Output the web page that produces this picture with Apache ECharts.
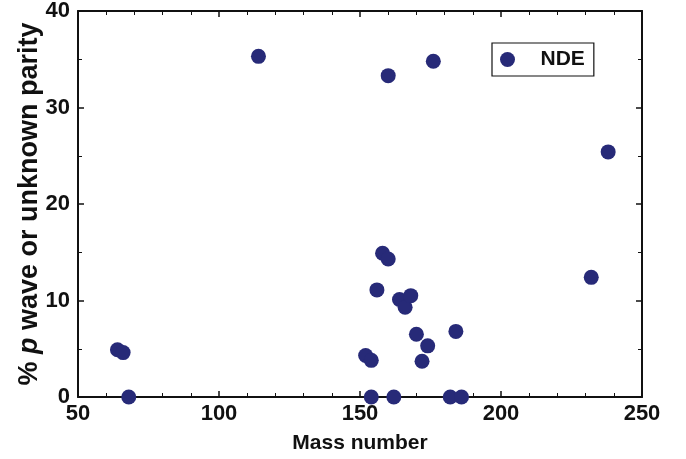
<!DOCTYPE html>
<html>
<head>
<meta charset="utf-8">
<script src="https://cdn.jsdelivr.net/npm/echarts@6/dist/echarts.min.js"></script>
<style>html,body{margin:0;padding:0;background:#fff}#c{width:686px;height:459px}</style>
</head>
<body>
<div id="c"></div>
<script>
const massNumber = [64, 66, 68, 114, 152, 154, 154, 156, 158, 160, 160, 162, 164, 166, 168, 170, 172, 174, 176, 182, 184, 186, 232, 238];
const pWavePercent = [4.9, 4.6, 0, 35.3, 4.3, 3.8, 0, 11.1, 14.9, 14.3, 33.3, 0, 10.1, 9.3, 10.5, 6.5, 3.7, 5.3, 34.8, 0, 6.8, 0, 12.4, 25.4];
const seriesName = 'NDE';
const xTitle = 'Mass number';

const points = massNumber.map((m, i) => [m, pWavePercent[i]]);
const font = '"Liberation Sans", Arial, sans-serif';
const navy = '#272a78';

const chart = echarts.init(document.getElementById('c'));
const axisCommon = {
  axisLine: { show: true, onZero: false, lineStyle: { color: '#111', width: 2 } },
  axisTick: { show: true, inside: true, length: 6, lineStyle: { color: '#111', width: 1.5 } },
  splitLine: { show: false }
};
chart.setOption({
  animation: false,
  grid: { left: 78, right: 44, top: 8, bottom: 62 },
  legend: {
    data: [seriesName],
    left: 492, top: 43,
    borderColor: '#111', borderWidth: 1.2,
    padding: [6, 9, 6, 8],
    itemWidth: 40, itemHeight: 15,
    icon: 'circle',
    textStyle: { fontFamily: font, fontWeight: 'bold', fontSize: 21, color: '#111', padding: [0, 0, 0, 8] }
  },
  xAxis: [
    Object.assign({}, axisCommon, {
      type: 'value', min: 50, max: 250, interval: 50, position: 'bottom',
      minorTick: { show: true, splitNumber: 5, length: 4, lineStyle: { color: '#111', width: 1 } },
      axisLabel: { fontFamily: font, fontWeight: 'bold', fontSize: 22, color: '#111', margin: 6 },
      name: xTitle, nameLocation: 'middle', nameGap: 36, nameMoveOverlap: false,
      nameTextStyle: { fontFamily: font, fontWeight: 'bold', fontSize: 21, color: '#111' }
    }),
    Object.assign({}, axisCommon, {
      type: 'value', min: 50, max: 250, interval: 50, position: 'top',
      minorTick: { show: true, splitNumber: 5, length: 4, lineStyle: { color: '#111', width: 1 } },
      axisLabel: { show: false }
    })
  ],
  yAxis: [
    Object.assign({}, axisCommon, {
      type: 'value', min: 0, max: 40, interval: 10, position: 'left',
      minorTick: { show: true, splitNumber: 2, length: 4, lineStyle: { color: '#111', width: 1 } },
      axisLabel: { fontFamily: font, fontWeight: 'bold', fontSize: 22, color: '#111', margin: 8 },
      name: '% {i|p} wave or unknown parity', nameLocation: 'middle', nameGap: 35, nameMoveOverlap: false,
      nameTextStyle: {
        fontFamily: font, fontWeight: 'bold', fontSize: 27, color: '#111',
        rich: { i: { fontFamily: font, fontWeight: 'bold', fontStyle: 'italic', fontSize: 27, color: '#111' } }
      }
    }),
    Object.assign({}, axisCommon, {
      type: 'value', min: 0, max: 40, interval: 10, position: 'right',
      minorTick: { show: true, splitNumber: 2, length: 4, lineStyle: { color: '#111', width: 1 } },
      axisLabel: { show: false }
    })
  ],
  series: [{
    name: seriesName,
    type: 'scatter',
    data: points,
    symbolSize: 15,
    itemStyle: { color: navy, opacity: 1 },
    clip: false
  }]
});
</script>
</body>
</html>
